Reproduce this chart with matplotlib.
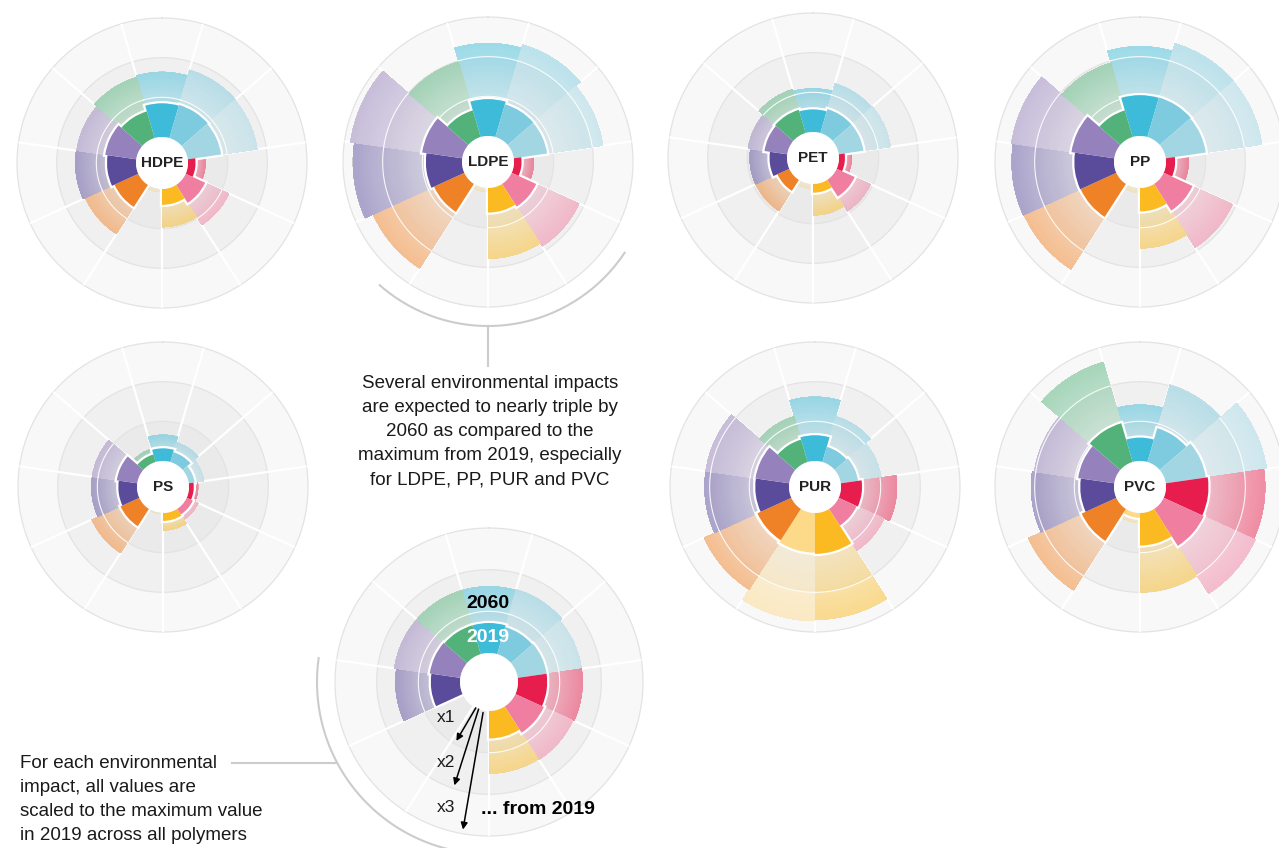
import numpy as np
import matplotlib
matplotlib.use('Agg')
import matplotlib.pyplot as plt
from matplotlib.colors import to_rgb

plt.rcParams['font.family'] = ['Liberation Sans', 'DejaVu Sans']

W, H = 1279, 848

# 11 environmental impacts, clockwise from the top
impact_colors = ['#3dbbd8', '#7ecade', '#a2d6e3', '#e71d4d', '#ef7ea1', '#fbba22',
                 '#fdd98a', '#ef8226', '#5a4b9b', '#9581bb', '#52b27a']

# values scaled to the 2019 maximum across polymers (x1 ring = 1)
hdpe_2019 = [0.85, 0.87, 0.85, 0.19, 0.54, 0.40, 0.00, 0.66, 0.73, 0.79, 0.70]
hdpe_2060 = [1.64, 1.79, 1.77, 0.44, 1.20, 0.96, 0.08, 1.47, 1.53, 1.52, 1.60]
ldpe_2019 = [0.93, 0.86, 0.85, 0.19, 0.68, 0.62, 0.00, 0.84, 0.91, 1.02, 0.70]
ldpe_2060 = [2.34, 2.43, 2.27, 0.50, 1.87, 1.78, 0.10, 2.53, 2.75, 2.85, 1.98]
pet_2019 = [0.57, 0.63, 0.63, 0.15, 0.50, 0.22, 0.00, 0.33, 0.44, 0.58, 0.61]
pet_2060 = [1.10, 1.30, 1.32, 0.32, 0.94, 0.79, 0.12, 0.93, 0.94, 1.00, 1.15]
pp_2019 = [1.03, 1.04, 1.02, 0.23, 0.80, 0.59, 0.00, 0.99, 1.00, 1.09, 0.70]
pp_2060 = [2.26, 2.46, 2.45, 0.57, 1.91, 1.52, 0.12, 2.56, 2.58, 2.62, 1.95]
ps_2019 = [0.32, 0.26, 0.15, 0.12, 0.17, 0.20, 0.00, 0.52, 0.47, 0.52, 0.20]
ps_2060 = [0.66, 0.52, 0.39, 0.23, 0.32, 0.44, 0.03, 1.32, 1.15, 1.15, 0.35]
pur_2019 = [0.65, 0.40, 0.44, 0.53, 0.50, 1.03, 1.00, 0.94, 0.85, 0.86, 0.59]
pur_2060 = [1.62, 1.20, 1.03, 1.41, 1.26, 2.69, 2.72, 2.42, 2.13, 2.13, 1.20]
pvc_2019 = [0.59, 0.89, 1.02, 1.07, 1.11, 0.82, 0.12, 0.96, 0.85, 0.92, 1.02]
pvc_2060 = [1.42, 2.03, 2.57, 2.50, 2.54, 2.00, 0.25, 2.44, 2.09, 2.04, 2.63]
key_2019 = [0.72, 0.68, 0.70, 0.70, 0.75, 0.66, 0.00, 0.00, 0.70, 0.74, 0.72]
key_2060 = [1.60, 1.62, 1.55, 1.55, 1.52, 1.50, 0.00, 0.00, 1.55, 1.60, 1.60]

polymers = ['HDPE', 'LDPE', 'PET', 'PP', 'PS', 'PUR', 'PVC']
values_2019 = [hdpe_2019, ldpe_2019, pet_2019, pp_2019, ps_2019, pur_2019, pvc_2019]
values_2060 = [hdpe_2060, ldpe_2060, pet_2060, pp_2060, ps_2060, pur_2060, pvc_2060]
# chart centres in pixels (x, y from top)
centres = [(162, 163), (488, 162), (813, 158), (1140, 162),
           (163, 487), (815, 487), (1140, 487)]

n = len(impact_colors)
w = 2 * np.pi / n
thetas = np.arange(n) * w
ring_colors = ['#eaeaea', '#f0f0f0', '#f8f8f8']
NLAYER = 36

fig = plt.figure(figsize=(W / 100, H / 100), dpi=100)


def shade(col, r, t):
    # opaque mix of the colour with the grey ring below it
    bg = np.array(to_rgb(ring_colors[min(int(r + 1e-6), 2)]))
    a = 0.08 + 0.42 * t
    return tuple(a * np.array(to_rgb(col)) + (1 - a) * bg)


def radial(cx, cy, R, r0, v19, v60, label=None):
    f = r0 / R
    ax = fig.add_axes([(cx - R) / W, 1 - (cy + R) / H, 2 * R / W, 2 * R / H],
                      projection='polar')
    ax.set_theta_zero_location('N')
    ax.set_theta_direction(-1)
    ax.set_ylim(0, 3)
    ax.set_rorigin(-3 * f / (1 - f))
    ax.axis('off')

    # grey rings
    for lo, col in zip([0, 1, 2], ring_colors):
        ax.bar(0, 1, width=2 * np.pi, bottom=lo, color=col, lw=0, zorder=0.5)
    circ = np.linspace(0, 2 * np.pi, 361)
    for lvl in [1, 2, 3]:
        ax.plot(circ, np.full_like(circ, lvl), color='#e3e3e3', lw=0.9,
                zorder=0.6, clip_on=False)
    for k in range(n):
        t = (k + 0.5) * w
        ax.plot([t, t], [0, 3], color='white', lw=1.6, zorder=0.8)

    # 2060, light with a radial gradient (darker outwards)
    for k in range(n):
        v = v60[k]
        if v <= 0:
            continue
        cuts = np.linspace(0, v, NLAYER + 1)[:-1]
        cuts = np.unique(np.concatenate([cuts, [c for c in (1, 2) if c < v]]))
        cols = [shade(impact_colors[k], c, c / v) for c in cuts]
        ax.bar(np.full(len(cuts), thetas[k]), v - cuts, width=w, bottom=cuts,
               color=cols, lw=0, zorder=2)
        for lvl in (1, 2):
            if v > lvl + 0.03:
                th = np.linspace(thetas[k] - w / 2, thetas[k] + w / 2, 30)
                ax.plot(th, np.full_like(th, lvl), color='white', lw=0.8,
                        alpha=0.9, zorder=3)

    # 2019, solid with white outline
    idx = [k for k in range(n) if v19[k] > 0]
    cols = [impact_colors[k] for k in idx]
    h = [v19[k] for k in idx]
    ax.bar(thetas[idx], h, width=w, bottom=0, color=cols, edgecolor='white',
           lw=3.2, zorder=4)
    ax.bar(thetas[idx], h, width=w, bottom=0, color=cols, lw=0, zorder=5)

    if label:
        ax.text(0.5, 0.5, label, transform=ax.transAxes, ha='center', va='center',
                fontsize=11, fontweight='bold', color='#222222', zorder=6)
    return ax


for name, (cx, cy), a, b in zip(polymers, centres, values_2019, values_2060):
    radial(cx, cy, 145, 26, a, b, name)

key = radial(489, 682, 154, 29, key_2019, key_2060)
# arrows x1, x2, x3
for t0, r0, t1, r1 in [(207, 0.0, 209, 0.92), (201, 0.0, 198.5, 1.92), (191, 0.05, 190, 2.9)]:
    key.annotate('', xy=(np.radians(t1), r1), xytext=(np.radians(t0), r0),
                 arrowprops=dict(arrowstyle='-|>', color='black', lw=1.1,
                                 mutation_scale=10, shrinkA=0, shrinkB=0),
                 zorder=7, annotation_clip=False)

# annotation layer in pixel coordinates
ov = fig.add_axes([0, 0, 1, 1])
ov.set_xlim(0, W)
ov.set_ylim(H, 0)
ov.axis('off')

phi = np.radians(np.linspace(33.6, 131.3, 120))
ov.plot(488 + 164 * np.cos(phi), 162 + 164 * np.sin(phi), color='#cccccc', lw=1.5)
ov.plot([488, 488], [326, 366], color='#cccccc', lw=1.5)
phi = np.radians(np.linspace(96, 188, 120))
ov.plot(489 + 172 * np.cos(phi), 682 + 172 * np.sin(phi), color='#cccccc', lw=1.5)
ov.plot([232, 336], [763, 763], color='#cccccc', lw=1.5)

note1 = ['Several environmental impacts', 'are expected to nearly triple by',
         '2060 as compared to the', 'maximum from 2019, especially',
         'for LDPE, PP, PUR and PVC']
for i, s in enumerate(note1):
    ov.text(490, 384 + 24 * i, s, ha='center', va='center', fontsize=13.5, color='#1a1a1a')

note2 = ['For each environmental', 'impact, all values are',
         'scaled to the maximum value', 'in 2019 across all polymers']
for i, s in enumerate(note2):
    ov.text(20, 763 + 24 * i, s, ha='left', va='center', fontsize=13.5, color='#1a1a1a')

ov.text(488, 603, '2060', ha='center', va='center', fontsize=14, fontweight='bold', color='black')
ov.text(488, 638, '2019', ha='center', va='center', fontsize=14, fontweight='bold', color='white')
for i, s in enumerate(['x1', 'x2', 'x3']):
    ov.text(446, 717 + 45.5 * i, s, ha='center', va='center', fontsize=12.5, color='#1a1a1a')
ov.text(481, 810, '... from 2019', ha='left', va='center', fontsize=14, fontweight='bold', color='black')

fig.savefig('out.png', dpi=100)
